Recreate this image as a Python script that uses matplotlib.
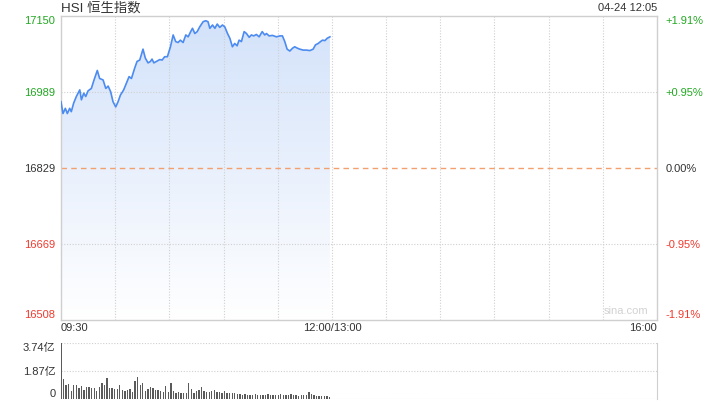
import numpy as np
import matplotlib
matplotlib.use("Agg")
import matplotlib.pyplot as plt
from matplotlib.colors import LinearSegmentedColormap

plt.rcParams['font.family'] = ['Liberation Sans', 'Noto Sans CJK SC', 'DejaVu Sans']

# ---- data ----
title = "HSI 恒生指数"
stamp = "04-24 12:05"
prev_close = 16829
price_ticks = [16508, 16669, 16829, 16989, 17150]
price_tick_labels = ["16508", "16669", "16829", "16989", "17150"]
pct_tick_labels = ["-1.91%", "-0.95%", "0.00%", "+0.95%", "+1.91%"]
x_tick_minutes = [0, 150, 330]
x_tick_labels = ["09:30", "12:00/13:00", "16:00"]

# minutes since 09:30 (trading time) and index level
minutes = [0.0, 1.1, 2.4, 3.5, 4.8, 5.7, 7.0, 8.5, 10.4, 11.3, 12.6, 13.7, 15.0, 16.8,
           18.3, 20.1, 21.4, 23.3, 24.8, 26.1, 27.5, 28.8, 30.3, 31.6, 32.9, 34.7,
           36.2, 37.7, 39.0, 40.8, 42.1, 43.6, 45.4, 46.7, 48.2, 49.5, 50.4, 51.4,
           52.8, 54.7, 56.0, 57.4, 58.9, 60.6, 62.1, 63.5, 64.8, 66.1, 67.6, 69.1,
           70.4, 71.8, 72.8, 74.1, 75.4, 76.8, 78.7, 80.1, 81.4, 82.4, 83.9, 85.2,
           86.5, 87.9, 89.4, 90.7, 92.2, 93.5, 94.9, 96.2, 97.5, 98.6, 99.9, 101.4,
           102.7, 104.2, 105.4, 106.7, 108.2, 109.7, 111.4, 112.8, 113.8, 115.2,
           117.1, 119.3, 121.2, 122.6, 123.9, 125.2, 126.7, 128.2, 129.4, 130.9,
           132.2, 134.1, 135.9, 137.8, 139.6, 140.9, 142.4, 143.7, 144.8, 146.1,
           147.4, 148.9]
prices = [16969, 16944, 16955, 16944, 16955, 16948, 16966, 16980, 16994, 16973, 16987,
          16980, 16992, 16997, 17015, 17035, 17018, 17015, 16997, 17002, 16990, 16969,
          16958, 16969, 16983, 16994, 17008, 17022, 17018, 17040, 17054, 17057, 17080,
          17061, 17051, 17054, 17059, 17051, 17054, 17058, 17057, 17064, 17064, 17085,
          17110, 17096, 17094, 17099, 17094, 17110, 17106, 17117, 17124, 17113, 17117,
          17127, 17138, 17140, 17138, 17124, 17131, 17124, 17133, 17126, 17131, 17127,
          17113, 17103, 17085, 17092, 17087, 17099, 17096, 17117, 17113, 17105, 17110,
          17108, 17111, 17106, 17117, 17110, 17113, 17108, 17109, 17106, 17108, 17108,
          17096, 17080, 17076, 17082, 17085, 17082, 17080, 17078, 17078, 17077, 17080,
          17089, 17092, 17096, 17099, 17098, 17103, 17106]

# volume (亿)
vol = [3.74, 1.32, 0.95, 0.99, 0.55, 0.95, 0.95, 0.73, 0.88, 0.62, 0.77, 0.77, 0.73,
       0.73, 0.55, 0.77, 1.06, 0.95, 1.39, 0.73, 0.73, 0.66, 0.66, 0.95, 0.62, 0.51,
       0.62, 0.66, 0.44, 1.17, 1.50, 0.95, 1.06, 0.51, 0.66, 0.77, 0.73, 0.62, 0.62,
       0.51, 0.44, 0.88, 0.44, 1.06, 0.51, 0.40, 0.44, 0.40, 0.40, 0.40, 1.06, 0.66,
       0.40, 0.51, 0.57, 0.77, 0.51, 0.44, 0.44, 0.51, 0.57, 0.44, 0.44, 0.40, 0.51,
       0.40, 0.40, 0.40, 0.40, 0.35, 0.33, 0.29, 0.33, 0.29, 0.29, 0.29, 0.33, 0.29,
       0.29, 0.29, 0.29, 0.33, 0.29, 0.29, 0.29, 0.29, 0.33, 0.29, 0.29, 0.29, 0.33,
       0.29, 0.29, 0.22, 0.29, 0.29, 0.29, 0.44, 0.35, 0.29, 0.22, 0.22, 0.22, 0.18,
       0.18, 0.13]
vol_ticks = [0, 1.87, 3.74]
vol_tick_labels = ["0", "1.87亿", "3.74亿"]
vol_last_minute = 148.6

# ---- styling ----
GREEN = '#22a822'
RED = '#f03a2e'
DARK = '#333333'
GRID = '#d0d0d0'
BORDER = '#cfcfcf'
LINE = '#4c8bf0'

fig = plt.figure(figsize=(7.2, 4.05), dpi=100)
W, H = 720, 405
def rect(l, t, r, b):
    return [l / W, 1 - b / H, (r - l) / W, (b - t) / H]

ax = fig.add_axes(rect(61, 16, 657, 320))
ymin, ymax = price_ticks[0], price_ticks[-1]
ax.set_xlim(0, 330)
ax.set_ylim(ymin, ymax)

# grid
for m in range(30, 330, 30):
    ax.axvline(m, color=GRID, lw=0.8, ls=(0, (1, 1.5)), zorder=1)
for p in [price_ticks[1], price_ticks[3]]:
    ax.axhline(p, color=GRID, lw=0.8, ls=(0, (1, 1.5)), zorder=1)

# gradient fill under line
poly = ax.fill_between(minutes, prices, ymin, color='none', lw=0)
cmap = LinearSegmentedColormap.from_list('g', ['#ffffff', '#d3e2fa'])
grad = np.linspace(0, 1, 256).reshape(-1, 1)
img = ax.imshow(grad, extent=[0, 330, ymin, ymax], origin='lower', aspect='auto',
                cmap=cmap, zorder=0.5)
img.set_clip_path(poly.get_paths()[0], transform=ax.transData)

ax.axhline(prev_close, color='#f2a06e', lw=1.0, ls=(0, (4, 3)), zorder=2)
ax.plot(minutes, prices, color=LINE, lw=1.2, zorder=3, solid_joinstyle='round')

for s in ax.spines.values():
    s.set_color(BORDER)
    s.set_linewidth(1.0)

tick_colors = [RED, RED, DARK, GREEN, GREEN]
ax.set_yticks(price_ticks)
ax.set_yticklabels(price_tick_labels, fontsize=8)
ax.tick_params(axis='y', length=0, pad=4)
for i, lab in enumerate(ax.get_yticklabels()):
    lab.set_color(tick_colors[i])
    if i == len(price_ticks) - 1:
        lab.set_verticalalignment('top')
    elif i == 0:
        lab.set_verticalalignment('bottom')

ax.set_xticks(x_tick_minutes)
ax.set_xticklabels(x_tick_labels, fontsize=8, color=DARK)
ax.tick_params(axis='x', length=0, pad=2)
xl = ax.get_xticklabels()
xl[0].set_horizontalalignment('left')
xl[-1].set_horizontalalignment('right')

ax2 = ax.twinx()
ax2.set_ylim(ymin, ymax)
ax2.set_yticks(price_ticks)
ax2.set_yticklabels(pct_tick_labels, fontsize=8)
ax2.tick_params(axis='y', length=0, pad=6)
for i, lab in enumerate(ax2.get_yticklabels()):
    lab.set_color(tick_colors[i])
    if i == len(price_ticks) - 1:
        lab.set_verticalalignment('top')
    elif i == 0:
        lab.set_verticalalignment('bottom')
for s in ax2.spines.values():
    s.set_visible(False)

ax.text(0.985, 0.012, "sina.com", transform=ax.transAxes, ha='right', va='bottom',
        fontsize=8, color='#d2d2d2')

fig.text(61 / W, 1 - 8 / H, title, ha='left', va='center', fontsize=9.6, color=DARK)
fig.text(657 / W, 1 - 8 / H, stamp, ha='right', va='center', fontsize=8, color=DARK)

# ---- volume panel ----
axv = fig.add_axes(rect(61, 343, 657, 399))
axv.set_xlim(0, 330)
axv.set_ylim(0, vol_ticks[-1])
vx = np.linspace(0, vol_last_minute, len(vol))
axv.bar(vx, vol, width=0.75, color='#5a5a5a', align='center', zorder=2)
for v in vol_ticks:
    axv.axhline(v, color=GRID, lw=0.8, ls=(0, (1, 1.5)), zorder=1)
for k, s in axv.spines.items():
    s.set_visible(k == 'right')
axv.spines['right'].set_color(BORDER)
axv.set_xticks([])
axv.set_yticks(vol_ticks)
axv.set_yticklabels(vol_tick_labels, fontsize=8, color=DARK)
axv.tick_params(axis='y', length=0, pad=4)
vl = axv.get_yticklabels()
vl[0].set_verticalalignment('bottom')
vl[-1].set_verticalalignment('top')

fig.savefig("out.png", dpi=100)
